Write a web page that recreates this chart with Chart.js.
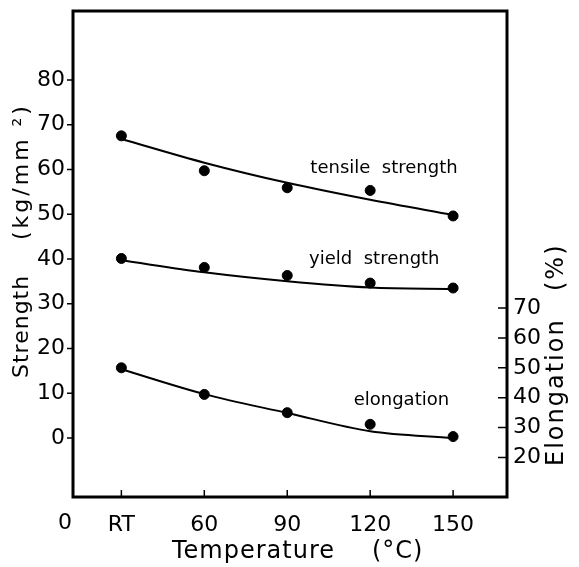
<!DOCTYPE html>
<html lang="en">
<head>
    <meta charset="UTF-8">
    <title>Strength and elongation vs temperature</title>
    <script src="https://cdn.jsdelivr.net/npm/chart.js"></script>
    <style>
        body { margin: 0; background: #fff; }
        #wrap { width: 579px; height: 567px; }
    </style>
</head>
<body>
<div id="wrap"><canvas id="myChart" width="579" height="567"></canvas></div>
<script>
    // values
    const temperatures = [30, 60, 90, 120, 150];
    const tempTickLabels = ['RT', '60', '90', '120', '150'];
    const tensilePoints = [67.5, 59.7, 55.9, 55.3, 49.6];
    const tensileFit = [66.8, 61.5, 57.0, 53.2, 49.8];
    const yieldPoints = [40.1, 38.1, 36.3, 34.6, 33.5];
    const yieldFit = [39.7, 37.0, 35.0, 33.6, 33.3];
    const elongationPoints = [50.0, 41.1, 35.0, 31.1, 27.0];
    const elongationFit = [49.5, 41.2, 34.9, 28.8, 26.5];
    const strengthTicks = [0, 10, 20, 30, 40, 50, 60, 70, 80];
    const elongationTicks = [20, 30, 40, 50, 60, 70];

    const FONT = "'DejaVu Sans', sans-serif";

    function pairs(xs, ys) {
        return xs.map((x, i) => ({ x: x, y: ys[i] }));
    }

    function pointSet(data, axis) {
        return {
            type: 'scatter', data: data, yAxisID: axis,
            pointRadius: 5, pointBackgroundColor: '#000', pointBorderColor: '#000',
            showLine: false
        };
    }

    function fitSet(data, axis) {
        return {
            type: 'line', data: data, yAxisID: axis,
            borderColor: '#000', borderWidth: 2, pointRadius: 0,
            cubicInterpolationMode: 'monotone', fill: false
        };
    }

    // frame, inward ticks, titles and curve labels
    const decorations = {
        id: 'decorations',
        afterDraw(chart) {
            const { ctx, chartArea: a, scales } = chart;
            const x = scales.x, y = scales.y, y2 = scales.y2;
            ctx.save();
            ctx.strokeStyle = '#000';
            ctx.fillStyle = '#000';

            ctx.lineWidth = 3;
            ctx.strokeRect(a.left, a.top, a.right - a.left, a.bottom - a.top);

            ctx.lineWidth = 1.5;
            ctx.beginPath();
            strengthTicks.forEach(v => {
                const py = y.getPixelForValue(v);
                ctx.moveTo(a.left - 6, py); ctx.lineTo(a.left, py);
            });
            elongationTicks.forEach(v => {
                const py = y2.getPixelForValue(v);
                ctx.moveTo(a.right - 9, py); ctx.lineTo(a.right, py);
            });
            temperatures.forEach(v => {
                const px = x.getPixelForValue(v);
                ctx.moveTo(px, a.bottom); ctx.lineTo(px, a.bottom - 7);
            });
            ctx.stroke();

            // origin label
            ctx.font = '22px ' + FONT;
            ctx.textAlign = 'center';
            ctx.textBaseline = 'middle';
            ctx.fillText('0', a.left - 8, 523);

            // curve labels
            ctx.font = '18px ' + FONT;
            ctx.fillText('tensile  strength', x.getPixelForValue(125), y.getPixelForValue(60.3));
            ctx.fillText('yield  strength', x.getPixelForValue(121.5), y.getPixelForValue(39.8));
            ctx.fillText('elongation', x.getPixelForValue(131.3), y2.getPixelForValue(39.2));

            // x title
            ctx.font = '24px ' + FONT;
            ctx.textAlign = 'left';
            ctx.letterSpacing = '1px';
            ctx.fillText('Temperature', 172, 552);
            ctx.fillText('(\u00b0C)', 372, 552);

            // left title, reads upward
            ctx.save();
            ctx.translate(22, 0);
            ctx.rotate(-Math.PI / 2);
            ctx.font = '22px ' + FONT;
            ctx.letterSpacing = '1px';
            ctx.fillText('Strength', -378, 0);
            ctx.letterSpacing = '3px';
            ctx.fillText('(kg/mm \u00b2)', -240, 0);
            ctx.restore();

            // right title, reads upward
            ctx.save();
            ctx.translate(557, 0);
            ctx.rotate(-Math.PI / 2);
            ctx.font = '24px ' + FONT;
            ctx.letterSpacing = '2px';
            ctx.fillText('Elongation', -466, 0);
            ctx.fillText('(%)', -291, 0);
            ctx.restore();

            ctx.restore();
        }
    };

    window.onload = () => {
        const ctx = document.getElementById('myChart');
        Chart.defaults.font.family = FONT;
        Chart.defaults.color = '#000';

        new Chart(ctx, {
            data: {
                datasets: [
                    pointSet(pairs(temperatures, tensilePoints), 'y'),
                    fitSet(pairs(temperatures, tensileFit), 'y'),
                    pointSet(pairs(temperatures, yieldPoints), 'y'),
                    fitSet(pairs(temperatures, yieldFit), 'y'),
                    pointSet(pairs(temperatures, elongationPoints), 'y2'),
                    fitSet(pairs(temperatures, elongationFit), 'y2')
                ]
            },
            options: {
                responsive: false,
                animation: false,
                layout: { padding: { top: 11, left: 0, right: 0, bottom: 0 } },
                plugins: {
                    legend: { display: false },
                    tooltip: { enabled: false }
                },
                scales: {
                    x: {
                        type: 'linear', position: 'bottom',
                        min: 12.5, max: 169.5,
                        grid: { display: false, drawTicks: false }, border: { display: false },
                        afterBuildTicks: s => { s.ticks = temperatures.map(v => ({ value: v })); },
                        afterFit: s => { s.height = 70; s.paddingLeft = 0; s.paddingRight = 0; },
                        ticks: {
                            padding: 15,
                            font: { size: 22 },
                            maxRotation: 0,
                            callback: (v, i) => tempTickLabels[i]
                        }
                    },
                    y: {
                        type: 'linear', position: 'left',
                        min: -13.2, max: 95.4,
                        grid: { display: false, drawTicks: false }, border: { display: false },
                        afterBuildTicks: s => { s.ticks = strengthTicks.map(v => ({ value: v })); },
                        afterFit: s => { s.width = 73; s.paddingTop = 0; s.paddingBottom = 0; },
                        ticks: { padding: 8, font: { size: 22 } }
                    },
                    y2: {
                        type: 'linear', position: 'right',
                        min: 6.8, max: 169.3,
                        grid: { display: false, drawTicks: false }, border: { display: false },
                        afterBuildTicks: s => { s.ticks = elongationTicks.map(v => ({ value: v })); },
                        afterFit: s => { s.width = 72; s.paddingTop = 0; s.paddingBottom = 0; },
                        ticks: { padding: 6, font: { size: 22 } }
                    }
                }
            },
            plugins: [decorations]
        });
    };
</script>
</body>
</html>
